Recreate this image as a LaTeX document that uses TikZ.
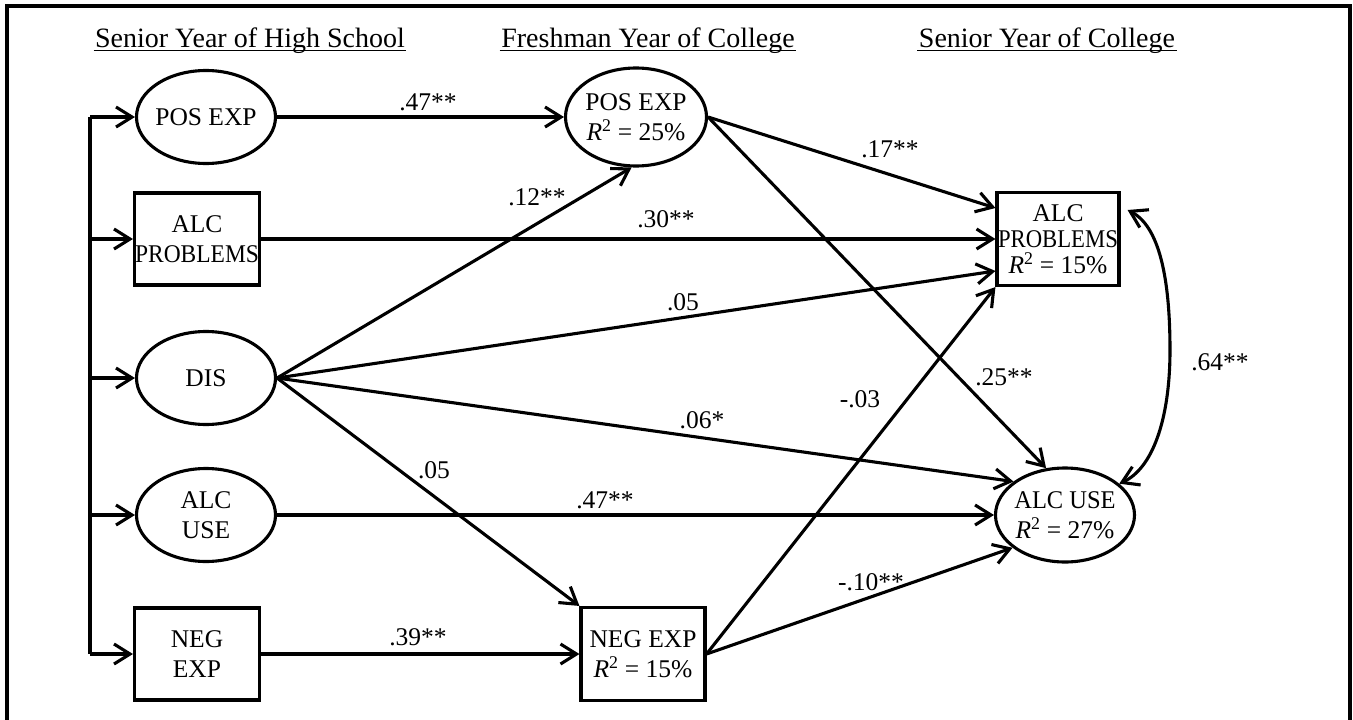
\documentclass[tikz,border=0pt]{standalone}
\usepackage{graphicx}
\usepackage{fontspec}
\setmainfont{Liberation Serif}
\usetikzlibrary{arrows.meta,shapes.geometric,calc}
\begin{document}
\begin{tikzpicture}[x=1pt,y=-1pt,
  line width=3.1pt,
  nfont/.style={font=\fontsize{25.5}{30}\selectfont},
  ell/.style={draw,ellipse,nfont,align=center,inner xsep=-6pt,inner ysep=-6pt,minimum width=139pt,minimum height=93pt},
  rbox/.style={draw,rectangle,nfont,align=center,inner sep=0pt,minimum width=125pt,minimum height=92pt},
  arr/.style={-{Straight Barb[length=16pt,width=20pt]}},
  dblarr/.style={{Straight Barb[length=16pt,width=20pt]}-{Straight Barb[length=16pt,width=20pt]}},
  lab/.style={font=\fontsize{25.5}{30}\selectfont,anchor=base,inner sep=0pt},
  hdr/.style={font=\fontsize{28}{32}\selectfont,anchor=base,inner sep=0pt},
  uline/.style={line width=1.8pt}]
\useasboundingbox (0,0) rectangle (1353,720);
% frame
\draw[line width=3.2pt] (7,730) -- (7,6) -- (1350,6) -- (1350,730);

% headers
\node[hdr] (h1) at (250,47) {Senior Year of High School};
\node[hdr] (h2) at (648,47) {Freshman Year of College};
\node[hdr] (h3) at (1047,47) {Senior Year of College};
\draw[uline] ([yshift=-3.5pt]h1.base west) -- ([yshift=-3.5pt]h1.base east);
\draw[uline] ([yshift=-3.5pt]h2.base west) -- ([yshift=-3.5pt]h2.base east);
\draw[uline] ([yshift=-3.5pt]h3.base west) -- ([yshift=-3.5pt]h3.base east);

% senior year of high school
\node[ell] (hpos) at (206,117) {POS EXP};
\node[rbox] (hprob) at (197,239) {ALC\\\scalebox{0.92}[1]{PROBLEMS}};
\node[ell] (hdis) at (206,378) {DIS};
\node[ell] (huse) at (206,515) {ALC\\USE};
\node[rbox] (hneg) at (197,654) {NEG\\EXP};

% freshman year
\node[ell,minimum width=141pt,minimum height=98pt] (fpos) at (636,117) {POS EXP\\\textit{R}\textsuperscript{2} = 25\%};
\node[rbox,minimum width=124pt,minimum height=93pt] (fneg) at (643,654) {NEG EXP\\\textit{R}\textsuperscript{2} = 15\%};

% senior year of college
\node[rbox,minimum width=122pt,minimum height=93pt,font=\fontsize{25.5}{26}\selectfont] (cprob) at (1058,239) {ALC\\\scalebox{0.89}[1]{PROBLEMS}\\\textit{R}\textsuperscript{2} = 15\%};
\node[ell,minimum height=94pt] (cuse) at (1065,515) {\scalebox{0.96}[1]{ALC USE}\\\textit{R}\textsuperscript{2} = 27\%};

% bus
\coordinate (b1) at (90,117);
\coordinate (b2) at (90,239);
\coordinate (b3) at (90,378);
\coordinate (b4) at (90,515);
\coordinate (b5) at (90,654);
\draw (b1) -- (b5);
\draw[arr] (b1) -- (hpos.west);
\draw[arr] (b2) -- (hprob.west);
\draw[arr] (b3) -- (hdis.west);
\draw[arr] (b4) -- (huse.west);
\draw[arr] (b5) -- (hneg.west);

% paths
\draw[arr] (hpos.east) -- (fpos.west);
\draw[arr] (hprob.east) -- (cprob.west);
\draw[arr] (hdis.east) -- (fpos.-95);
\draw[arr] (hdis.east) -- ([yshift=-32pt]cprob.west);
\draw[arr] (hdis.east) -- (cuse.147);
\draw[arr] (hdis.east) -- (fneg.north west);
\draw[arr] (huse.east) -- (cuse.west);
\draw[arr] (hneg.east) -- (fneg.west);
\draw[arr] (fpos.east) -- ([yshift=31pt]cprob.west);
\draw[arr] (fpos.east) -- (cuse.112);
\draw[arr] (fneg.east) -- (cprob.south west);
\draw[arr] (fneg.east) -- (cuse.212);

% correlation
\coordinate (cm) at (1170,350);
\draw[dblarr] ([xshift=7pt,yshift=29pt]cprob.east) .. controls +(35,18) and +(0,-60) .. (cm) .. controls +(0,70) and +(33,-15) .. (cuse.30);

% labels
\node[lab] (l1) at (428,110) {.47**};
\node[lab] (l2) at (666,227) {.30**};
\node[lab] (l3) at (537,205) {.12**};
\node[lab] (l4) at (683,310) {.05};
\node[lab] (l5) at (702,428) {.06*};
\node[lab] (l6) at (434,478) {.05};
\node[lab] (l7) at (605,508) {.47**};
\node[lab] (l8) at (418,645) {.39**};
\node[lab] (l9) at (890,157) {.17**};
\node[lab] (l10) at (1004,385) {.25**};
\node[lab] (l11) at (860,407) {-.03};
\node[lab] (l12) at (871,590) {-.10**};
\node[lab] (l13) at (1220,370) {.64**};
\end{tikzpicture}
\end{document}
